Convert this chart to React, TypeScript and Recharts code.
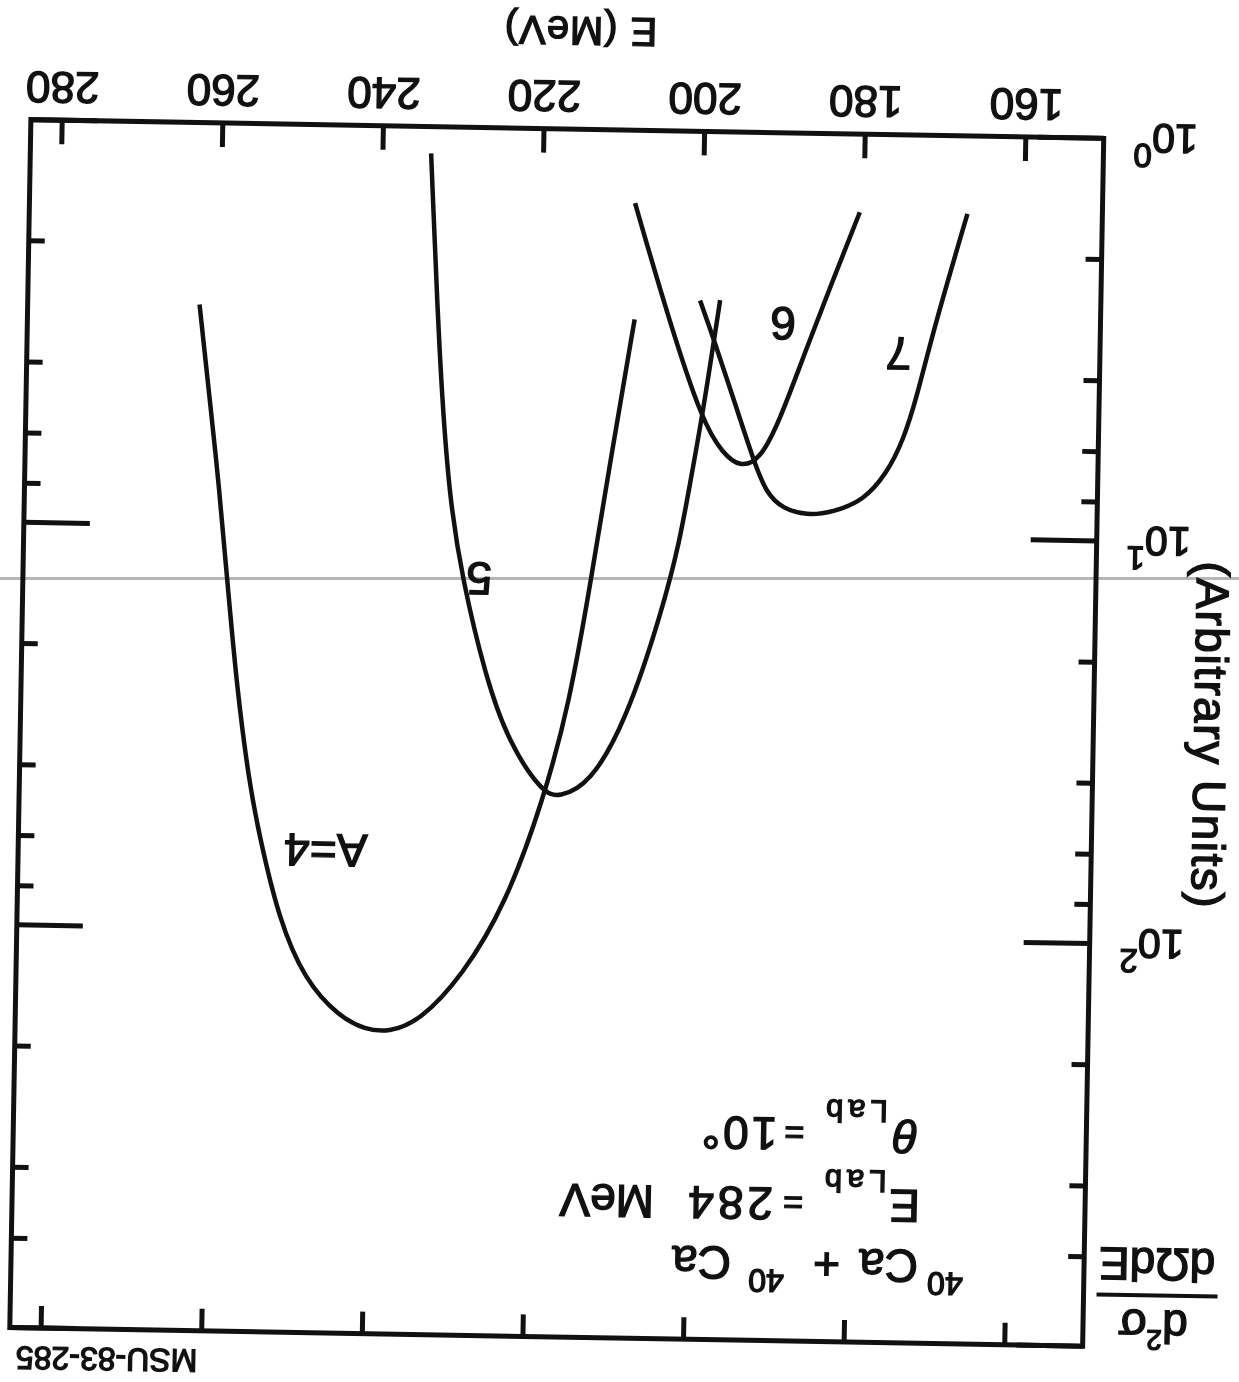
import { LineChart, Line, XAxis, YAxis, ReferenceArea, ReferenceDot } from "recharts";

const INK = "#111111";
const FONT = "'Liberation Sans', Arial, Helvetica, sans-serif";

const CHART_W = 1239;
const CHART_H = 1382;
const PLOT_W = 1073;
const PLOT_H = 1208;

const energyTicks = [160, 180, 200, 220, 240, 260, 280];
const yieldTicks = [1, 2, 4, 6, 8, 10, 20, 40, 60, 80, 100, 200, 400, 600, 1000];

// A = 4
const a4Energy = [208.3, 210.8, 213.2, 215.6, 218.7, 223.1, 228.3, 233.6, 237.4, 240.3, 243.6, 247.9, 251.3, 254.0, 255.3, 257.0, 258.5, 259.7, 260.9, 262.5];
const a4Yield = [2.95, 6.2, 13.3, 26.8, 47.0, 84.8, 127.9, 167, 178, 175.8, 163.6, 133.6, 94.5, 57.5, 43.0, 25.4, 13.4, 7.91, 5.1, 2.83];

// A = 5
const a5Energy = [197.7, 199.6, 201.1, 202.2, 204.2, 208.5, 212.9, 216.7, 218.7, 223.0, 226.1, 229.2, 231.0, 232.5, 234.0];
const a5Yield = [2.62, 5.0, 7.6, 10.4, 15.45, 29.4, 42.3, 45.7, 44.7, 33.8, 23.1, 13.2, 8.34, 3.87, 1.165];

// A = 6
const a6Energy = [180.5, 183.7, 186.8, 190.0, 192.4, 194.9, 197.0, 199.6, 204.3, 208.5];
const a6Yield = [1.563, 2.31, 3.4, 5.18, 6.52, 6.8, 6.29, 5.31, 2.84, 1.518];

// A = 7
const a7Energy = [167.1, 171.1, 173.0, 174.6, 176.6, 179.4, 183.2, 186.5, 189.4, 191.5, 193.2, 195.9, 198.5, 200.2];
const a7Yield = [1.56, 3.05, 4.47, 5.74, 6.95, 8.12, 8.71, 8.9, 8.58, 7.89, 6.53, 4.55, 3.24, 2.63];

const curveNames = ["A=4", "5", "6", "7"];
const labelEnergy = [245.6, 227.1, 189.8, 175.4];
const labelYield = [63.4, 13.2, 2.98, 3.5];

const toPoints = (e: number[], v: number[]) => e.map((x, i) => ({ e: x, v: v[i] }));

const series = [
    toPoints(a4Energy, a4Yield),
    toPoints(a5Energy, a5Yield),
    toPoints(a6Energy, a6Yield),
    toPoints(a7Energy, a7Yield),
];

function EnergyTick({ x, y, payload }: any) {
    return (
        <g>
            <line x1={x} y1={y} x2={x} y2={y - 24} stroke={INK} strokeWidth={5} />
            <line x1={x} y1={y - PLOT_H} x2={x} y2={y - PLOT_H + 22} stroke={INK} strokeWidth={5} />
            <text x={x} y={y + 48} textAnchor="middle" fontSize={44} fill={INK} stroke={INK} strokeWidth={1.4}>
                {payload.value}
            </text>
        </g>
    );
}

function YieldTick({ x, y, payload }: any) {
    const lg = Math.log10(payload.value);
    const exp = Math.round(lg);
    const major = Math.abs(lg - exp) < 1e-6;
    const len = major ? 66 : 16;
    return (
        <g>
            <line x1={x} y1={y} x2={x + len} y2={y} stroke={INK} strokeWidth={5} />
            <line x1={x + PLOT_W} y1={y} x2={x + PLOT_W - len} y2={y} stroke={INK} strokeWidth={5} />
            {major && exp < 3 && (
                <text x={x - 30} y={y + 15} textAnchor="end" fontSize={41} fill={INK} stroke={INK} strokeWidth={1.4}>
                    10
                    <tspan fontSize={33} dy={-20}>
                        {exp}
                    </tspan>
                </text>
            )}
        </g>
    );
}

export default function App() {
    return (
        <>
            <div style={{ position: "fixed", left: 0, top: 577, width: CHART_W, height: 3, background: "#b6b6b6" }} />
            <div
                style={{
                    position: "fixed",
                    left: 0,
                    top: 0,
                    width: CHART_W,
                    height: CHART_H,
                    transform: "rotate(181deg)",
                    fontFamily: FONT,
                }}
            >
                <LineChart width={CHART_W} height={CHART_H} margin={{ top: 44, right: 21, bottom: 0, left: 0 }}>
                    <XAxis
                        dataKey="e"
                        type="number"
                        domain={[150.3, 283.9]}
                        ticks={energyTicks}
                        interval={0}
                        allowDataOverflow
                        height={130}
                        axisLine={false}
                        tickLine={false}
                        tickSize={0}
                        tickMargin={0}
                        tick={EnergyTick}
                    />
                    <YAxis
                        type="number"
                        scale="log"
                        domain={[1, 1000]}
                        ticks={yieldTicks}
                        interval={0}
                        allowDataOverflow
                        width={145}
                        axisLine={false}
                        tickLine={false}
                        tickSize={0}
                        tickMargin={0}
                        tick={YieldTick}
                    />
                    <ReferenceArea x1={150.3} x2={283.9} y1={1} y2={1000} fill="none" stroke={INK} strokeWidth={5} />
                    {series.map((pts, i) => (
                        <Line
                            key={curveNames[i]}
                            data={pts}
                            dataKey="v"
                            type="basis"
                            stroke={INK}
                            strokeWidth={4.5}
                            dot={false}
                            activeDot={false}
                            isAnimationActive={false}
                        />
                    ))}
                    {curveNames.map((name, i) => (
                        <ReferenceDot
                            key={`lbl-${name}`}
                            x={labelEnergy[i]}
                            y={labelYield[i]}
                            r={1}
                            fill="none"
                            stroke="none"
                            label={{ value: name, position: "center", fontSize: 46, fill: INK, stroke: INK, strokeWidth: 1.4 }}
                        />
                    ))}
                </LineChart>

                <svg style={{ position: "absolute", left: 0, top: 0 }} width={CHART_W} height={CHART_H}>
                    <g fill={INK} stroke={INK} strokeWidth={1.4} fontSize={46}>
                        {/* y axis title: d2sigma / dOmega dE */}
                        <text x={75} y={81} textAnchor="middle">
                            d
                            <tspan fontSize={28} dy={-20}>2</tspan>
                            <tspan dy={20}>σ</tspan>
                        </text>
                        <line x1={11} y1={96} x2={132} y2={96} strokeWidth={4} />
                        <text x={72} y={143} textAnchor="middle">dΩdE</text>
                        <text transform="translate(28 657) rotate(-90)" textAnchor="middle" dominantBaseline="central" letterSpacing={1.5}>
                            (Arbitrary Units)
                        </text>

                        <text x={670} y={1364} textAnchor="middle" fontSize={40} letterSpacing={1}>
                            E (MeV)
                        </text>

                        {/* reaction annotation */}
                        <text>
                            <tspan x={266} y={115} fontSize={32}>40</tspan>
                            <tspan x={311} y={137}>Ca</tspan>
                            <tspan x={389} y={137}>+</tspan>
                            <tspan x={445} y={115} fontSize={32}>40</tspan>
                            <tspan x={498} y={137}>Ca</tspan>
                        </text>
                        <text>
                            <tspan x={310} y={197}>E</tspan>
                            <tspan x={344} y={216} fontSize={31} letterSpacing={5}>Lab</tspan>
                            <tspan x={427} y={194} fontSize={34}>=</tspan>
                            <tspan x={457} y={197} letterSpacing={4}>284</tspan>
                            <tspan x={576} y={197}>MeV</tspan>
                        </text>
                        <text>
                            <tspan x={313} y={267} fontStyle="italic">θ</tspan>
                            <tspan x={344} y={286} fontSize={31} letterSpacing={5}>Lab</tspan>
                            <tspan x={427} y={264} fontSize={34}>=</tspan>
                            <tspan x={454} y={267} letterSpacing={3}>10°</tspan>
                        </text>

                        <text x={1030} y={25} fontSize={32}>
                            MSU-83-285
                        </text>
                    </g>
                </svg>
            </div>
        </>
    );
}
